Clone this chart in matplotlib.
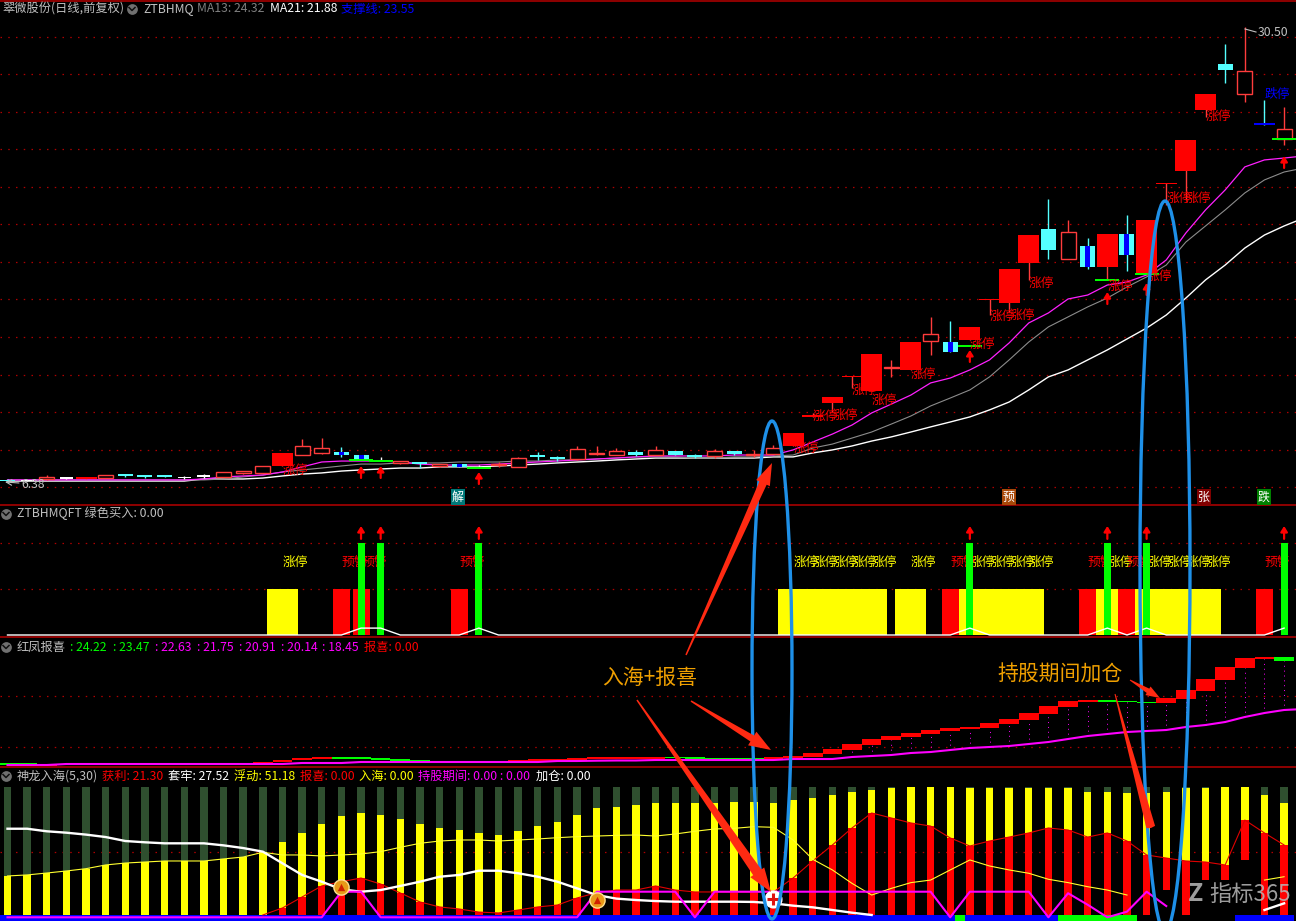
import numpy as np
import matplotlib
matplotlib.use("Agg")
import matplotlib.pyplot as plt
from matplotlib.patches import Ellipse, Polygon

plt.rcParams['font.family'] = ['Noto Sans CJK SC', 'DejaVu Sans']

nan = float('nan')
# ---- daily candles (prices) ----
body_top = [6.49,6.49,6.59,6.59,6.65,6.75,6.75,6.70,6.70,6.65,6.70,6.91,6.91,7.23,7.92,8.29,8.18,7.97,7.81,7.55,
            7.44,7.44,7.28,7.33,7.18,7.33,7.65,7.81,7.70,8.13,7.92,8.02,7.97,8.08,8.02,7.81,8.02,8.02,7.86,8.18,
            8.98,9.88,10.89,11.98,13.16,12.46,13.80,14.22,13.80,14.60,16.08,17.67,19.47,19.79,19.63,18.89,19.52,19.52,20.27,22.23,
            24.51,26.94,28.53,28.16,25.35,25.09]
body_bot = [6.43,6.43,6.54,6.55,6.54,6.59,6.70,6.65,6.65,6.59,6.65,6.65,6.86,6.86,7.23,7.81,7.92,7.81,7.55,7.49,
            7.39,7.33,7.23,7.18,7.12,7.28,7.18,7.73,7.60,7.60,7.86,7.81,7.81,7.81,7.81,7.71,7.76,7.86,7.81,7.86,
            8.29,9.83,10.57,11.93,11.20,12.40,12.30,13.85,13.27,13.91,16.02,15.87,17.99,18.68,18.20,17.78,17.78,18.41,17.35,22.17,
            22.86,26.10,28.22,26.94,25.30,24.56]
high_px = [6.54,6.49,6.75,6.65,6.65,6.75,6.80,6.75,6.70,6.70,6.80,6.91,6.96,7.23,7.92,8.66,8.71,8.24,7.81,7.71,
           7.49,7.44,7.33,7.33,7.28,7.44,7.71,7.97,7.76,8.29,8.29,8.18,8.08,8.29,8.02,7.86,8.13,8.02,8.08,8.34,
           8.98,10.04,10.89,11.98,13.16,12.85,13.80,15.13,14.91,14.60,16.08,17.67,19.47,21.38,20.27,19.31,19.52,20.53,20.27,22.23,
           24.51,26.94,29.59,30.50,26.63,26.26]
low_px = [6.38,6.43,6.49,6.55,6.54,6.59,6.65,6.59,6.65,6.54,6.59,6.65,6.80,6.86,7.23,7.81,7.86,7.71,7.55,7.49,
          7.33,7.12,7.18,7.18,7.12,7.18,7.18,7.55,7.49,7.55,7.81,7.81,7.76,7.81,7.81,7.65,7.65,7.81,7.71,7.86,
          8.29,9.83,10.09,11.36,11.20,11.93,12.30,13.11,13.27,13.91,15.23,15.39,17.09,18.20,18.20,17.67,17.09,17.56,17.35,21.06,
          21.33,25.73,27.53,26.52,25.30,24.24]
# 'f' limit-up solid, 'h' hollow red, 'c' cyan falling, 'b' cyan with blue core, 'w' white doji, 'd' blue dash
candle_kind = ['c','w','h','w','f','h','c','c','c','w','w','h','h','h','f','h','h','b','b','w',
     'h','c','h','b','w','h','h','c','c','h','h','h','c','h','c','c','h','c','h','h',
     'f','f','f','f','f','h','f','h','b','f','f','f','f','c','h','b','f','b','f','f',
     'f','f','c','h','d','h']
# ---- moving averages ----
ma_white = [6.43]*10 + [6.54,6.54,6.54,6.59,6.70,6.80,6.86,6.96,7.02,7.07,7.12,7.12,7.18,7.18,7.18,7.23,7.28,7.33,7.39,7.44,
            7.49,7.55,7.60,7.65,7.65,7.65,7.65,7.65,7.65,7.71,7.71,7.92,8.08,8.29,8.55,8.77,9.03,9.30,9.56,9.83,
            10.20,10.62,11.26,11.95,12.32,12.85,13.38,13.96,14.54,15.23,16.13,17.09,17.88,18.78,19.47,19.95,20.37]
ma_gray = [6.49]*11 + [6.54,6.65,6.75,6.91,7.02,7.12,7.23,7.33,7.33,7.39,7.39,7.39,7.44,7.44,7.44,7.49,7.49,7.55,7.55,
           7.60,7.65,7.71,7.71,7.71,7.65,7.65,7.71,7.71,7.76,7.81,8.18,8.39,8.71,9.03,9.45,9.88,10.41,10.83,11.26,
           11.95,12.85,13.80,14.60,15.13,15.66,16.13,16.72,17.25,17.88,19.10,19.95,20.80,21.70,22.39,22.81,23.02]
ma_magenta = [6.49]*10 + [6.54,6.65,6.70,6.75,6.91,7.18,7.44,7.49,7.49,7.49,7.44,7.33,7.28,7.28,7.28,7.33,7.39,7.44,7.49,7.55,
              7.60,7.65,7.71,7.76,7.76,7.76,7.76,7.81,7.81,7.81,8.08,8.50,8.92,9.40,10.04,10.51,10.99,11.63,11.89,12.32,
              12.85,13.75,14.81,15.34,16.08,16.29,16.82,16.98,17.35,18.15,19.58,20.80,21.86,23.08,23.45,23.55,23.66]
# ---- signals ----
buy_idx = [18,19,24,49,56,58,65]
buy_dash = [7.55,7.49,7.12,13.59,17.09,17.40,24.56]
buy_tip = [7.23,7.23,6.91,13.38,16.45,16.93,23.66]
limit_idx = [14,40,41,42,43,44,46,49,50,51,52,56,58,59,60,61]
limit_label_px = [7.02,8.18,9.83,9.93,11.26,10.73,12.10,13.69,15.13,15.23,16.93,16.77,17.30,21.43,21.43,25.73]
yellow_idx = [14,40,41,42,43,44,46,49,50,51,52,56,58,59,60,61]
red_idx = [17,18,23,48,55,57,64]
signal_line = [0]*66
for _i in buy_idx:
    signal_line[_i] = 0.15
# ---- stair panel (红凤报喜) ----
stair_bot = [.17,.17,.1,.2,.2,.2,.2,.2,.2,.2,.2,.2,.2,.3,.5,.7,.85,.85,.85,.7,.63,.5,.5,.5,.5,.47,.5,.63,.63,.73,
             .83,.85,.85,.83,.87,.8,.77,.77,.77,.8,.9,1.0,1.3,1.7,2.2,2.7,3.0,3.3,3.6,3.8,3.9,4.3,4.7,5.3,6.0,6.5,6.5,6.5,6.4,6.4,
             6.8,7.6,8.7,9.9,10.8,10.6]
stair_top = [.37,.37,.3,.35,.35,.35,.35,.35,.35,.35,.35,.35,.35,.5,.75,.9,1.0,1.0,1.0,.87,.8,.7,.6,.6,.6,.6,.7,.8,.8,.9,
             1.03,1.05,1.05,.97,1.0,1.0,.87,.87,.87,1.0,1.1,1.4,1.8,2.3,2.8,3.1,3.4,3.7,3.9,4.0,4.4,4.8,5.4,6.1,6.6,6.7,6.7,6.6,6.55,6.9,
             7.7,8.8,10.0,10.9,11.0,11.0]
stair_green = [0,1,9,10,17,18,19,20,21,22,23,24,34,35,36,37,38,56,57,58,65]
low_line = [.2,.2,.2]+[.3]*12+[.4,.4,.4]+[.5]*10+[.6,.6,.63,.65,.65,.7,.7,.7,.7,.7,.7,.7,.8,.8,.8,1.0,1.1,1.2,1.4,1.5,1.7,1.9,2.0,2.1,2.3,2.5,2.8,3.1,3.3,3.5,3.6,3.7,4.0,4.2,4.5,5.0,5.4,5.7,5.8]
# ---- bottom panel (神龙入海) ----
yellow_bar = [30.5,31.3,32.8,34.4,36.2,39.1,40.6,41.4,42.2,42.2,42.2,43.8,45.3,49.0,57.3,64.1,71.1,77.3,79.7,78.1,75.0,71.1,68.0,66.4,64.1,62.5,65.6,69.5,72.7,78.1,83.6,84.4,85.9,
              87.5,87.5,87.5,87.2,88.3,88.3,87.5,89.8,91.4,93.8,96.1,97.7,99.2,100,100,100,99.2,99.2,99.2,99.5,99.5,99.2,96.1,96.1,95.3,95.1,96.1,99.2,99.2,100,100,93.8,87.2]
red_bar = [0]*14 + [5.5,14.1,22.7,26.0,28.9,24.2,17.2,10.2,6.3,4.7,2.3,1.6,3.9,6.3,7.8,13.3,17.4,19.5,19.5,
           22.7,19.5,18,18,18,18,18,28.9,42.2,54.7,68,79.7,75.8,71.9,69.5,60.2,53.9,57.8,60.9,64.1,68,66.4,60.9,64.1,57.8,46.9,44.5,42.2,41.4,39.1,74.2,64.1,54.7]
red_base = [0]*59 + [19.5,0,27.3,27.3,43,0,0]
float_line = yellow_bar[:14] + [46.9,46.9,46.1,46.9,47.7,49.5,52.9,56,57.8,58.6,58.6,57.8,58.6,59.4,60.4,61.2,61.7,62.2,62.5,61.7,63.3,65.4,67.2,67.7,69,68.5,58.6,43.5,35.2,24.7,15.6,20.8,25.3,27.3,35.2,43,38.3,35.2,32.6,27.9,25.3,22.1,19.5,15.6,nan,nan,nan,nan,nan,nan,27.3,29.9]
trapped_line = [67.4,67.4,65.4,64.3,62.8,60.9,57.8,56.8,56,56,56,54.4,52.3,49.5,40.4,31.3,26,20.1,18.2,19.5,22.7,26,29.9,31.3,34.6,34.6,32.6,29.9,26,20.8,15.6,12.8,11.7,10.9,10.4,10.4,10.4,10.4,10.2,9.1,7.3,6,3.9,1.8,0]+[nan]*19+[3.9,9.1]
hold_line = [-1.8]*17+[18.2,18.2]+[-1.8]*11+[18.2]*5+[-1.8]+[18.2]*12+[-1.8]+[18.2]*4+[-1.8,17,8,-1.8,2.6,18.2,7]+[nan]*6
band_green = [54,55,56,57]
band_black = [58,59,60,61,62]

RED='#ff0000'; HOLLOW='#ff3c3c'; CYAN='#54ffff'; BLUE='#0000ff'; GREEN='#00ff00'; YEL='#ffff00'; MAG='#ff00ff'
GRID='#b00000'; SEP='#a80000'; LGRAY='#c0c0c0'
W, H = 1296, 921
fig = plt.figure(figsize=(W/100, H/100), dpi=100, facecolor='black')
STEP = 19.64; X0 = 7.5
xlim = (-X0/STEP, (W-X0)/STEP)

def panel(y0, y1, ylim):
    ax = fig.add_axes([0, 1-y1/H, 1, (y1-y0)/H], facecolor='black')
    ax.set_xlim(*xlim); ax.set_ylim(*ylim); ax.axis('off')
    return ax

PX = 0.053  # price per pixel
a1 = panel(2, 505, (6.38-(505-482)*PX, 6.38+(482-2)*PX))
a2 = panel(505, 637, (-2/46, 130/46))
a3 = panel(637, 767, (0, 13))
a4 = panel(767, 921, (-6/1.28, 148/1.28))

idx = np.arange(66)
DOT = dict(color=GRID, lw=0.9, ls=(0, (1.2, 5)), zorder=0.5)
# ---- price panel ----
for k in range(13):
    a1.axhline(6.38+(482-(36.6+37.55*k))*PX, **DOT)
for s, c, lw in [(ma_white,'white',1.0),(ma_gray,'#8c8c8c',0.8),(ma_magenta,'#ff20ff',0.9)]:
    a1.plot(np.arange(67), s, color=c, lw=lw, zorder=3, solid_joinstyle='round')
for i in idx:
    k = candle_kind[i]
    wick = CYAN if k in 'cbd' else ('white' if k=='w' else HOLLOW)
    a1.vlines(i, low_px[i], high_px[i], color=wick, lw=1.0, zorder=4)
    t, b = body_top[i], body_bot[i]
    h = max(t-b, 0.08)
    if k == 'f':
        a1.bar(i, h, bottom=b, width=21/STEP, color=RED, lw=0, zorder=5)
    elif k == 'h':
        a1.bar(i, h, bottom=b, width=15/STEP, facecolor='black', edgecolor=HOLLOW, lw=1, zorder=5)
    elif k in 'cb':
        a1.bar(i, h, bottom=b, width=15/STEP, color=CYAN, lw=0, zorder=5)
        if k == 'b':
            a1.bar(i, h, bottom=b, width=5/STEP, color=BLUE, lw=0, zorder=6)
    elif k == 'w':
        a1.bar(i, h, bottom=b, width=13/STEP, color='white', lw=0, zorder=5)
    elif k == 'd':
        a1.bar(i, 0.09, bottom=b, width=21/STEP, color=BLUE, lw=0, zorder=5)
ARW = dict(arrowstyle='-|>,head_width=0.2,head_length=0.32', color=RED, lw=1.6, shrinkA=0, shrinkB=0)
for i, p, tip in zip(buy_idx, buy_dash, buy_tip):
    a1.bar(i, 0.1, bottom=p-0.05, width=24/STEP, color=GREEN, lw=0, zorder=6)
    a1.annotate('', xy=(i, tip), xytext=(i, tip-12*PX), zorder=7, arrowprops=ARW)
TS = 8.8
LS = 9.2
for i, p in zip(limit_idx, limit_label_px):
    a1.text(i, p, '涨停', color=RED, fontsize=LS, ha='left', va='center', zorder=7)
a1.text(64, 26.94, '跌停', color=BLUE, fontsize=LS, ha='left', va='center', zorder=7)

# ---- signal panel ----
for v in (1, 2):
    a2.axhline(v, **DOT)
a2.bar(yellow_idx, [1]*len(yellow_idx), width=31/STEP, color=YEL, lw=0, zorder=2)
a2.bar(red_idx, [1]*len(red_idx), width=17/STEP, color=RED, lw=0, zorder=3)
for i in yellow_idx:
    a2.text(i, 1.587, '涨停', color=YEL, fontsize=LS, ha='left', va='center', zorder=3)
for i in red_idx:
    a2.text(i, 1.587, '预警', color=RED, fontsize=LS, ha='left', va='center', zorder=3)
a2.bar(buy_idx, [2]*len(buy_idx), width=7/STEP, color=GREEN, lw=0, zorder=4)
a2.plot(idx, signal_line, color='white', lw=1.0, zorder=5)
for i in buy_idx:
    a2.annotate('', xy=(i, 2.37), xytext=(i, 2.09), arrowprops=ARW)

# ---- stair panel ----
for v in (2.0, 7.1):
    a3.axhline(v, **DOT)
stair_c = [GREEN if i in stair_green else RED for i in idx]
a3.bar(idx, np.array(stair_top)-np.array(stair_bot), bottom=stair_bot, width=1.0, color=stair_c, lw=0, zorder=3)
for i in idx[14:]:
    if stair_bot[i] - low_line[i] > 0.5:
        a3.vlines(i, low_line[i], stair_bot[i], color=MAG, lw=0.7, ls=(0, (1, 4)), zorder=2)
a3.plot(np.arange(67), low_line, color=MAG, lw=1.5, zorder=4)

# ---- bottom panel ----
a4.axhline(49.4, **DOT)
BW = 7.4/STEP
a4.bar(idx, 100-np.array(yellow_bar), bottom=yellow_bar, width=BW, color='#2f4f2f', lw=0, zorder=1)
a4.bar(idx, np.array(yellow_bar)-np.array(red_bar), bottom=red_bar, width=BW, color=YEL, lw=0, zorder=2)
a4.bar(idx, np.array(red_bar)-np.array(red_base), bottom=red_base, width=BW, color=RED, lw=0, zorder=3)
band_c = [GREEN if i in band_green else ('black' if i in band_black else BLUE) for i in idx]
a4.bar(idx, [-6/1.28]*66, width=1.0, color=band_c, lw=0, zorder=3)
a4.bar([48.5], [-6/1.28], width=0.5, color=GREEN, lw=0, zorder=3)
a4.plot(idx[13:], red_bar[13:], color='#e00000', lw=0.8, zorder=4)
a4.plot(idx, float_line, color='#ffff30', lw=0.8, zorder=4)
a4.plot(idx, trapped_line, color='white', lw=1.7, zorder=5)
a4.plot(idx, hold_line, color=MAG, lw=1.5, zorder=6)
a4.scatter([17, 30], [22, 11.7], s=120, color='#e89a18', edgecolor='#ffe090', lw=1, zorder=7)
a4.scatter([17, 30], [22, 11.7], s=28, marker='^', color='#d02000', lw=0, zorder=8)
a4.scatter([39], [12.5], s=170, color='white', lw=0, zorder=7)
a4.scatter([39], [12.5], s=70, marker='+', color='#e01010', lw=2.2, zorder=8)

# ---- overlay in pixels: frames, headers, hand-drawn notes ----
ov = fig.add_axes([0, 0, 1, 1], facecolor='none')
ov.set_xlim(0, W); ov.set_ylim(H, 0); ov.axis('off'); ov.set_zorder(20)
for y in (0.7, 505, 637, 767):
    ov.plot([0, W], [y, y], color=SEP, lw=1.2, zorder=1)

def head(x, y, s, c=LGRAY):
    ov.text(x, y, s, color=c, fontsize=TS, va='center', ha='left', zorder=3)
def icon(x, y):
    ov.scatter([x], [y], s=60, color='#707070', lw=0, zorder=3)
    ov.plot([x-3, x, x+3], [y-1.5, y+1.5, y-1.5], color='#101010', lw=1.1, zorder=4)

head(2, 9, '翠微股份(日线,前复权)'); icon(132, 9); head(143, 9, 'ZTBHMQ')
head(197, 9, 'MA13: 24.32', '#808080'); head(270, 9, 'MA21: 21.88', 'white'); head(341, 9, '支撑线: 23.55', BLUE)
icon(6, 514); head(17, 513, 'ZTBHMQFT 绿色买入: 0.00')
icon(6, 647); head(17, 647, '红凤报喜')
for x, s, c in [(70,': 24.22',GREEN),(113,': 23.47',GREEN),(155,': 22.63',MAG),(197,': 21.75',MAG),(239,': 20.91',MAG),
                (281,': 20.14',MAG),(322,': 18.45',MAG),(364,'报喜: 0.00',RED)]:
    head(x, 647, s, c)
icon(6, 776); head(17, 776, '神龙入海(5,30)')
for x, s, c in [(102,'获利: 21.30',RED),(168,'套牢: 27.52','white'),(234,'浮动: 51.18',YEL),(300,'报喜: 0.00',RED),
                (359,'入海: 0.00',YEL),(418,'持股期间: 0.00 : 0.00',MAG),(536,'加仓: 0.00','white')]:
    head(x, 776, s, c)
head(21, 484, '6.38'); ov.annotate('', xy=(5, 482), xytext=(19, 483), arrowprops=dict(arrowstyle='->', color=LGRAY, lw=0.8, shrinkA=0, shrinkB=0))
head(1258, 32, '30.50'); ov.plot([1245, 1256], [29, 32], color=LGRAY, lw=0.8)

for x, s, bg in [(458,'解','#007878'),(1009,'预','#a84808'),(1204,'张','#800000'),(1264,'跌','#008000')]:
    ov.text(x, 497, s, color='white', fontsize=8.6, ha='center', va='center', zorder=3,
            bbox=dict(boxstyle='square,pad=0.1', fc=bg, ec='none'))

ARROWC = '#ff2a12'
def arrow(tail, tip, w_tail=1.0, w_shaft=10.0, w_head=16.0, head_len=22.0):
    tail = np.array(tail, float); tip = np.array(tip, float)
    d = tip-tail; L = np.hypot(*d); u = d/L; n = np.array([-u[1], u[0]])
    neck = tip-u*head_len
    pts = [tail+n*w_tail/2, neck+n*w_shaft/2, neck+n*w_head/2, tip, neck-n*w_head/2, neck-n*w_shaft/2, tail-n*w_tail/2]
    ov.add_patch(Polygon(pts, closed=True, fc=ARROWC, ec='none', zorder=8))

arrow((686, 655), (772, 463), 1.5, 8, 15, 22)
arrow((691, 701), (771, 750), 1.5, 7, 16, 22)
arrow((637, 700), (771, 892), 1.5, 10, 17, 24)
arrow((1130, 680), (1160, 698), 1, 5, 10, 14)
arrow((1115, 694), (1151, 828), 1, 9, 9, 1)
ov.add_patch(Ellipse((772, 670), 40, 498, fc='none', ec='#1e90e8', lw=2.4, zorder=7))
ov.add_patch(Ellipse((1165, 566), 50, 730, fc='none', ec='#1e90e8', lw=2.4, zorder=7))
ov.text(650, 678, '入海+报喜', color='#f0a000', fontsize=15, ha='center', va='center', zorder=9)
ov.text(1060, 675, '持股期间加仓', color='#f0a000', fontsize=15, ha='center', va='center', zorder=9)
ov.text(1196, 894, 'Z', color='#b8b8b8', fontsize=18, fontweight='bold', ha='center', va='center', alpha=0.85, zorder=9)
ov.text(1250, 894, '指标365', color='#b8b8b8', fontsize=16, ha='center', va='center', alpha=0.85, zorder=9)

fig.savefig('out.png', dpi=100, facecolor='black')
